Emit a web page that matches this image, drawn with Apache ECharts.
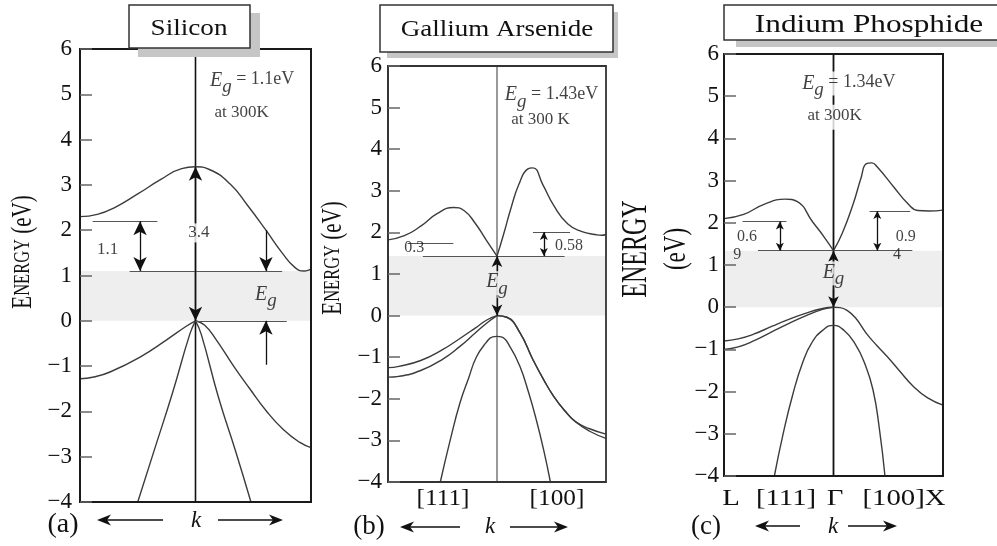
<!DOCTYPE html>
<html>
<head>
<meta charset="utf-8">
<title>Energy band structures: Si, GaAs, InP</title>
<script src="https://cdn.jsdelivr.net/npm/echarts@6/dist/echarts.min.js"></script>
<style>
  html, body { margin: 0; padding: 0; background: #fff; }
  #chart { width: 997px; height: 546px; }
</style>
</head>
<body>
<div id="chart"></div>
<script>
// ---------- shared axis ----------
const energyRange = [-4, 6];      // eV, y axis
const kRange = [-1, 1];           // wave vector, Γ at 0

// ---------- Silicon ----------
const siGap = 1.1;                // indirect gap
const siDirect = 3.4;             // direct transition at Γ
const siStep = 1.1;               // valley step above the conduction edge
const siConduction = [[-1, 2.3], [-0.85, 2.35], [-0.7, 2.5], [-0.5, 2.8], [-0.3, 3.12], [-0.12, 3.36], [0, 3.4],
  [0.12, 3.34], [0.3, 3.02], [0.45, 2.55], [0.61, 2.0], [0.75, 1.5], [0.86, 1.18], [0.94, 1.1], [0.98, 1.12], [1, 1.15]];
const siValenceLeft = [[-1, -1.28], [-0.88, -1.24], [-0.74, -1.13], [-0.48, -0.8], [-0.25, -0.42], [-0.08, -0.12], [0, 0]];
const siValenceRight = [[0, 0], [0.08, -0.1], [0.18, -0.42], [0.33, -1.0], [0.47, -1.5], [0.61, -1.98], [0.76, -2.4], [0.9, -2.68], [1, -2.8]];
const siSteepLeft = [[-0.5, -4], [-0.35, -2.8], [-0.2, -1.6], [-0.05, -0.3], [0, 0]];
const siSteepRight = [[0, 0], [0.05, -0.3], [0.2, -1.7], [0.35, -2.9], [0.48, -4]];
const siLevels = [[-0.89, -0.33, siGap + siStep], [-0.57, 0.75, siGap], [0, 0.79, 0]];          // [k from, k to, E]
const siArrows = [[0, 0, siDirect, 2], [-0.48, siGap, siGap + siStep, 2], [0.61, 2.0, siGap, 1], [0.61, -0.97, 0, 1]]; // [k, E from, E to, heads]

// ---------- Gallium Arsenide ----------
const gaGap = 1.43;
const gaStepL = 0.3;
const gaStepX = 0.58;
const gaConductionLeft = [[-1, 1.82], [-0.85, 1.92], [-0.7, 2.15], [-0.55, 2.45], [-0.4, 2.6], [-0.3, 2.52], [-0.2, 2.22], [-0.1, 1.82], [0, 1.43]];
const gaConductionRight = [[0, 1.43], [0.06, 1.95], [0.13, 2.6], [0.2, 3.15], [0.28, 3.52], [0.33, 3.55], [0.42, 3.15], [0.52, 2.65],
  [0.65, 2.2], [0.78, 2.02], [0.9, 1.95], [0.96, 1.93], [1, 1.95]];
const gaHeavyLeft = [[-1, -1.25], [-0.9, -1.22], [-0.7, -1.08], [-0.5, -0.82], [-0.34, -0.55], [-0.2, -0.3], [-0.09, -0.1], [0, 0]];
const gaLightLeft = [[-1, -1.48], [-0.9, -1.46], [-0.7, -1.32], [-0.5, -1.05], [-0.34, -0.74], [-0.2, -0.42], [-0.09, -0.17], [0, 0]];
const gaHeavyRight = [[0, 0], [0.09, -0.04], [0.21, -0.41], [0.33, -1.06], [0.43, -1.55], [0.52, -1.94], [0.62, -2.28], [0.72, -2.55], [0.85, -2.72], [1, -2.85]];
const gaLightRight = [[0, 0], [0.09, -0.04], [0.21, -0.41], [0.33, -1.06], [0.43, -1.55], [0.52, -1.94], [0.62, -2.28], [0.72, -2.55], [0.85, -2.78], [1, -2.95]];
const gaSplitOff = [[-0.52, -4], [-0.43, -3.0], [-0.34, -2.1], [-0.26, -1.5], [-0.19, -1.0], [-0.1, -0.65], [-0.04, -0.51], [0, -0.5],
  [0.04, -0.51], [0.12, -0.75], [0.21, -1.22], [0.29, -1.85], [0.36, -2.5], [0.43, -3.25], [0.49, -4]];
const gaLevels = [[-0.82, -0.40, gaGap + gaStepL], [-0.68, 0.62, gaGap], [0.33, 0.67, gaGap + gaStepX]];
const gaArrows = [[0.43, gaGap, gaGap + gaStepX, 2], [0, 1.0, gaGap, 1], [0, 0.42, 0, 1]];

// ---------- Indium Phosphide ----------
const inGap = 1.34;
const inStepL = 0.69;
const inStepX = 0.94;
const inConductionLeft = [[-1, 2.1], [-0.82, 2.2], [-0.64, 2.43], [-0.44, 2.56], [-0.33, 2.5], [-0.19, 2.02], [-0.09, 1.68], [0, 1.34]];
const inConductionRight = [[0, 1.34], [0.08, 1.75], [0.18, 2.45], [0.25, 3.05], [0.3, 3.4], [0.35, 3.42], [0.4, 3.32], [0.55, 2.85],
  [0.68, 2.45], [0.77, 2.29], [0.87, 2.28], [1, 2.3]];
const inHeavyLeft = [[-1, -0.8], [-0.87, -0.75], [-0.73, -0.64], [-0.56, -0.45], [-0.42, -0.3], [-0.25, -0.14], [-0.1, -0.03], [0, 0]];
const inLightLeft = [[-1, -1.0], [-0.87, -0.94], [-0.73, -0.8], [-0.56, -0.58], [-0.42, -0.4], [-0.25, -0.2], [-0.1, -0.05], [0, 0]];
const inValenceRight = [[0, 0], [0.06, -0.01], [0.12, -0.07], [0.2, -0.25], [0.3, -0.62], [0.4, -0.92], [0.49, -1.17], [0.6, -1.5],
  [0.73, -1.88], [0.86, -2.15], [1, -2.32]];
const inSplitOff = [[-0.54, -4], [-0.46, -3.0], [-0.37, -2.05], [-0.28, -1.3], [-0.2, -0.85], [-0.1, -0.55], [0, -0.43],
  [0.1, -0.56], [0.2, -0.88], [0.28, -1.3], [0.36, -1.95], [0.42, -2.9], [0.47, -4]];
const inLevels = [[-0.83, -0.43, inGap + inStepL], [-0.69, 0.72, inGap], [0.33, 0.70, inGap + inStepX]];
const inArrows = [[-0.49, inGap, inGap + inStepL, 2], [0.40, inGap, inGap + inStepX, 2], [0, 1.0, inGap, 1], [0, 0.42, 0, 1]];

// ---------- styling ----------
const SERIF = "'Liberation Serif', 'Times New Roman', serif";
const INK = '#111';
const GAP_FILL = '#eeeeee';

const RICH = {
  e: { fontFamily: SERIF, fontStyle: 'italic', fontSize: 20, color: INK, lineHeight: 20, verticalAlign: 'top' },
  g: { fontFamily: SERIF, fontStyle: 'italic', fontSize: 19, color: INK, lineHeight: 20, verticalAlign: 'top', padding: [7, 0, 0, 0] },
  t: { fontFamily: SERIF, fontSize: 18, color: INK, lineHeight: 20, verticalAlign: 'top' }
};
const egText = v => `{e|E}{g|g}{t| = ${v}eV}`;

// text notes placed in data coordinates: [k, E, text, fontSize, extra label style]
const siNotes = [
  [0.49, 5.3, egText(siGap), 18],
  [0.40, 4.60, 'at 300K', 17],
  [-0.76, 1.57, String(siStep), 17],
  [0.03, 1.94, String(siDirect), 17, { backgroundColor: '#fff', padding: [1, 1] }],
  [0.61, 0.58, '{e|E}{g|g}', 18]
];
const gaNotes = [
  [0.50, 5.3, egText(gaGap), 18],
  [0.40, 4.72, 'at 300 K', 17],
  [-0.76, 1.62, String(gaStepL), 16],
  [0.66, 1.68, String(gaStepX), 16],
  [0, 0.78, '{e|E}{g|g}', 18, { backgroundColor: GAP_FILL, padding: [1, 0, 3, 0] }]
];
const inNotes = [
  [0.14, 5.3, egText(inGap), 18, { backgroundColor: '#fff', padding: [2, 2] }],
  [0.01, 4.5, 'at 300K', 17, { backgroundColor: '#fff', padding: [2, 2, 6, 2] }],
  [-0.79, 1.68, '0.6', 16],
  [-0.88, 1.24, '9', 16],
  [0.66, 1.68, '0.9', 16],
  [0.58, 1.24, '4', 16],
  [0, 0.80, '{e|E}{g|g}', 18, { backgroundColor: GAP_FILL, padding: [1, 0, 3, 0] }]
];

const panels = [
  { grid: { left: 80, top: 49, width: 231, height: 453 }, border: ['#1a1a1a', 2], labelMargin: 8,
    centerStyle: { color: '#111', width: 1.6 }, bands: [siConduction, siValenceLeft, siValenceRight, siSteepLeft, siSteepRight],
    gap: siGap, levels: siLevels, arrows: siArrows, notes: siNotes, headSmall: [10, 14], headBig: [10, 14] },
  { grid: { left: 388, top: 66, width: 218, height: 416 }, border: ['#333', 1.8], labelMargin: 6,
    centerStyle: { color: '#777', width: 1.5 }, bands: [gaConductionLeft, gaConductionRight, gaHeavyLeft, gaLightLeft, gaHeavyRight, gaLightRight, gaSplitOff],
    gap: gaGap, levels: gaLevels, arrows: gaArrows, notes: gaNotes, headSmall: [6, 8], headBig: [8, 11] },
  { grid: { left: 724, top: 54, width: 219, height: 422 }, border: ['#1a1a1a', 2], labelMargin: 5,
    centerStyle: { color: '#111', width: 1.8 }, bands: [inConductionLeft, inConductionRight, inHeavyLeft, inLightLeft, inValenceRight, inSplitOff],
    gap: inGap, levels: inLevels, arrows: inArrows, notes: inNotes, headSmall: [6, 8], headBig: [8, 11] }
];

const tickFmt = v => (v < 0 ? '\u2212' + (-v) : String(v));

const option = { animation: false, backgroundColor: '#fff', grid: [], xAxis: [], yAxis: [], series: [], graphic: [] };

panels.forEach((p, i) => {
  option.grid.push(Object.assign({ show: true, z: 4, backgroundColor: 'transparent', borderColor: p.border[0], borderWidth: p.border[1] }, p.grid));
  option.xAxis.push({ gridIndex: i, type: 'value', min: kRange[0], max: kRange[1], show: false });
  option.yAxis.push({
    gridIndex: i, type: 'value', min: energyRange[0], max: energyRange[1], interval: 1, z: 5, position: 'left',
    axisLine: { show: true, onZero: false, lineStyle: { color: p.border[0], width: p.border[1] } },
    axisTick: { show: true, inside: true, length: 12, lineStyle: { color: '#666', width: 1.5 } },
    splitLine: { show: false },
    axisLabel: { fontFamily: SERIF, fontSize: 23, color: INK, margin: p.labelMargin, formatter: tickFmt }
  });

  // band curves
  p.bands.forEach(b => option.series.push({
    type: 'line', xAxisIndex: i, yAxisIndex: i, data: b, smooth: 0.5,
    symbol: 'none', silent: true, z: 3, lineStyle: { color: '#3c3c3c', width: 1.4 }
  }));

  // Γ line, gap shading, level lines and arrows
  const lines = p.levels.map(l => [{ coord: [l[0], l[2]] }, { coord: [l[1], l[2]] }]);
  p.arrows.forEach(a => {
    const size = a[0] === 0 ? p.headBig : p.headSmall;
    lines.push([
      { coord: [a[0], a[1]], symbol: a[3] === 2 ? 'arrow' : 'none', symbolSize: size, lineStyle: { color: '#111', width: 1.3 } },
      { coord: [a[0], a[2]], symbol: 'arrow', symbolSize: size }
    ]);
  });
  option.series.push({
    type: 'line', xAxisIndex: i, yAxisIndex: i, data: [[0, energyRange[0]], [0, energyRange[1]]],
    symbol: 'none', silent: true, z: 2, lineStyle: p.centerStyle,
    markArea: { silent: true, itemStyle: { color: GAP_FILL }, data: [[{ yAxis: 0 }, { yAxis: p.gap }]] },
    markLine: {
      silent: true, animation: false, symbol: 'none', label: { show: false },
      lineStyle: { color: '#555', width: 1.2, type: 'solid' }, emphasis: { disabled: true },
      data: lines
    }
  });

  // text notes
  option.series.push({
    type: 'scatter', xAxisIndex: i, yAxisIndex: i, z: 6, silent: true, symbolSize: 1,
    itemStyle: { color: 'transparent' },
    data: p.notes.map(n => ({
      value: [n[0], n[1]],
      label: Object.assign({ show: true, position: 'inside', formatter: n[2], color: INK, fontFamily: SERIF, fontSize: n[3], rich: RICH }, n[4] || {})
    }))
  });
});

// ---------- page furniture: title boxes, axis names, k arrows ----------
function gText(x, y, text, o) {
  return {
    type: 'text', x, y, z: 30, silent: true, rotation: o.rot || 0, scaleX: o.sx || 1, scaleY: o.sy || 1,
    style: {
      text, font: `${o.italic ? 'italic ' : ''}${o.size}px ${SERIF}`, fill: INK,
      align: 'center', verticalAlign: 'middle', textAlign: 'center', textVerticalAlign: 'middle', rich: o.rich
    }
  };
}
function gArrow(x1, x2, y) {
  const d = x2 > x1 ? 1 : -1;
  return [
    { type: 'line', z: 30, silent: true, shape: { x1, y1: y, x2: x2 - d * 9, y2: y }, style: { stroke: INK, lineWidth: 1.3 } },
    { type: 'polygon', z: 30, silent: true, shape: { points: [[x2, y], [x2 - d * 14, y - 5.5], [x2 - d * 10, y], [x2 - d * 14, y + 5.5]] }, style: { fill: INK } }
  ];
}
function titleBox(x, y, w, h, sx, sy, sw, sh, text, cx, cy, size, scale) {
  return [
    { type: 'rect', z: 28, silent: true, shape: { x: sx, y: sy, width: sw, height: sh }, style: { fill: '#c6c6c6' } },
    { type: 'rect', z: 29, silent: true, shape: { x, y, width: w, height: h }, style: { fill: '#fff', stroke: '#333', lineWidth: 1.5 } },
    gText(cx, cy, text, { size, sx: scale })
  ];
}
const capsRich = {
  b: { fontSize: 21, fontFamily: SERIF, fill: INK },
  s: { fontSize: 16.5, fontFamily: SERIF, fill: INK }
};

option.graphic = [].concat(
  titleBox(129, 5, 121, 43, 138, 13, 122, 44, 'Silicon', 189, 29, 23, 1.18),
  titleBox(380, 5, 233, 47, 387, 12, 231, 46, 'Gallium Arsenide', 497, 30, 22.5, 1.2),
  titleBox(724, 5, 290, 35, 736, 12, 280, 35, 'Indium Phosphide', 869, 25, 25, 1.25),

  gText(23, 252, '{b|E}{s|NERGY}{b| (eV)}', { size: 21, rot: Math.PI / 2, sy: 1.4, rich: capsRich }),
  gText(333, 258, '{b|E}{s|NERGY}{b| (eV)}', { size: 21, rot: Math.PI / 2, sy: 1.4, rich: capsRich }),
  gText(637, 249, 'ENERGY', { size: 24, rot: Math.PI / 2, sy: 1.45 }),
  gText(677, 249, '(eV)', { size: 23, rot: Math.PI / 2, sy: 1.4 }),

  gText(63, 525, '(a)', { size: 28 }),
  gText(196, 521, 'k', { size: 23, italic: true }),
  gArrow(163, 97, 520), gArrow(218, 283, 520),

  gText(443, 499, '[111]', { size: 23, sx: 1.1 }),
  gText(557, 499, '[100]', { size: 23, sx: 1.1 }),
  gText(369, 527, '(b)', { size: 27 }),
  gText(490, 527, 'k', { size: 23, italic: true }),
  gArrow(460, 400, 527), gArrow(510, 568, 527),

  gText(731, 499, 'L', { size: 24, sx: 1.2 }),
  gText(786, 499, '[111]', { size: 24, sx: 1.2 }),
  gText(835, 499, '\u0393', { size: 24, sx: 1.2 }),
  gText(904, 499, '[100]X', { size: 24, sx: 1.2 }),
  gText(706, 527, '(c)', { size: 27 }),
  gText(833, 527, 'k', { size: 23, italic: true }),
  gArrow(800, 755, 526), gArrow(848, 897, 526)
);

const chart = echarts.init(document.getElementById('chart'), null, { renderer: 'canvas' });
chart.setOption(option);
</script>
</body>
</html>
